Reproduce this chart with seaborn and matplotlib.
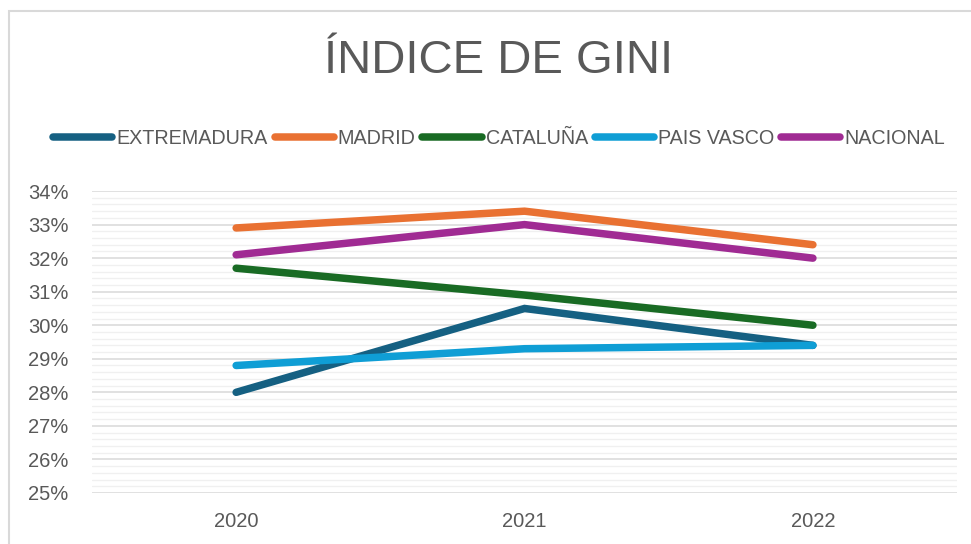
import pandas as pd
import seaborn as sns
import numpy as np
import matplotlib
matplotlib.use('Agg')
import matplotlib.pyplot as plt
from matplotlib.patches import Rectangle
from matplotlib.ticker import MultipleLocator, PercentFormatter

# Data (Gini index, %)
years = ['2020', '2021', '2022']
regions = ['EXTREMADURA', 'MADRID', 'CATALUÑA', 'PAIS VASCO', 'NACIONAL']
extremadura = [28.0, 30.5, 29.4]
madrid = [32.9, 33.4, 32.4]
cataluna = [31.7, 30.9, 30.0]
pais_vasco = [28.8, 29.3, 29.4]
nacional = [32.1, 33.0, 32.0]
colors = ['#156082', '#E97132', '#196B24', '#0F9ED5', '#A02B93']

series = [extremadura, madrid, cataluna, pais_vasco, nacional]
data = pd.DataFrame({
    'pos': np.tile(np.arange(len(years)), len(regions)),
    'gini': np.concatenate(series),
    'region': np.repeat(regions, len(years)),
})

sns.set_style('white')
plt.rcParams['font.family'] = ['Liberation Sans', 'DejaVu Sans']
grey = '#595959'

fig = plt.figure(figsize=(9.71, 5.44), dpi=100)
ax = fig.add_axes([0.0947, 0.0938, 0.891, 0.555])

sns.lineplot(data=data, x='pos', y='gini', hue='region', hue_order=regions,
             palette=colors, linewidth=5.4, ax=ax, legend=False,
             solid_capstyle='round', solid_joinstyle='miter')

ax.set_xlim(-0.5, 2.5)
ax.set_ylim(25, 34)
ax.set_xticks(range(len(years)))
ax.set_xticklabels(years)
ax.yaxis.set_major_locator(MultipleLocator(1))
ax.yaxis.set_minor_locator(MultipleLocator(0.2))
ax.yaxis.set_major_formatter(PercentFormatter(decimals=0))
ax.grid(axis='y', which='major', color='#D9D9D9', linewidth=1.1, zorder=0)
ax.grid(axis='y', which='minor', color='#F0F0F0', linewidth=1.0, zorder=0)
ax.set_axisbelow(True)
ax.tick_params(axis='both', which='both', length=0, labelsize=14.5, labelcolor=grey)
ax.tick_params(axis='x', pad=14)
ax.tick_params(axis='y', pad=17)
ax.set_xlabel('')
ax.set_ylabel('')
for s in ax.spines.values():
    s.set_visible(False)

fig.text(0.513, 0.888, 'ÍNDICE DE GINI', ha='center', va='center',
         fontsize=34, color=grey)

handles = [plt.Line2D([0], [0], color=c, linewidth=5.4, solid_capstyle='round')
           for c in colors]
leg = fig.legend(handles, regions, loc='center', bbox_to_anchor=(0.514, 0.745),
                 ncol=5, frameon=False, handlelength=3.0, handletextpad=0.2,
                 columnspacing=0.35, prop={'size': 14.2})
for t in leg.get_texts():
    t.set_color(grey)

# chart border (partly cropped)
fig.patches.append(Rectangle((9 / 971, -0.1), 1.0, 1 - 11 / 544 + 0.1,
                             transform=fig.transFigure, fill=False,
                             edgecolor='#D9D9D9', linewidth=1.5))

fig.savefig('out.png', dpi=100)
